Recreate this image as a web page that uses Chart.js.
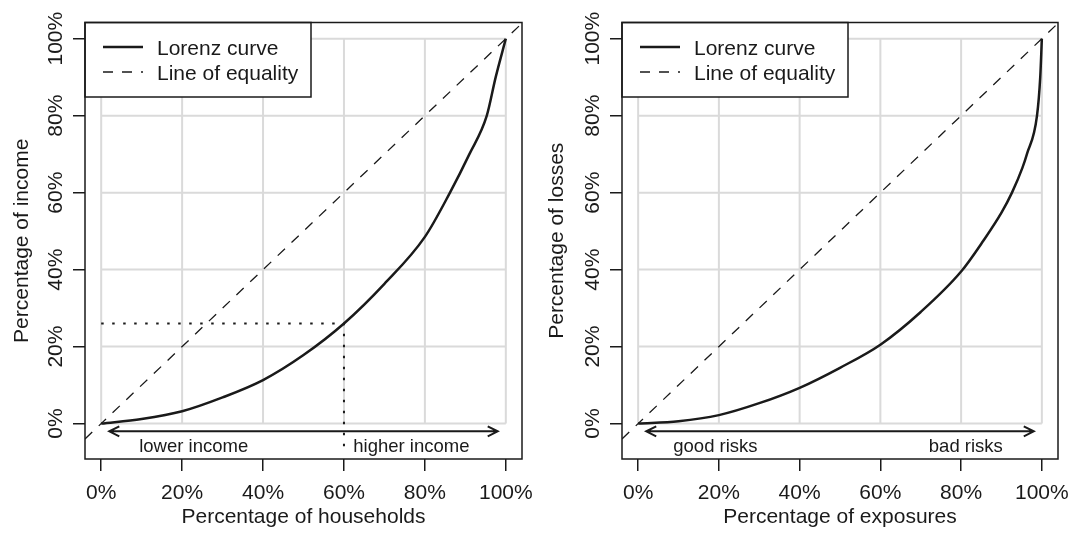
<!DOCTYPE html>
<html>
<head>
<meta charset="utf-8">
<title>Lorenz curves</title>
<script src="https://cdn.jsdelivr.net/npm/chart.js@4.4.1/dist/chart.umd.min.js"></script>
<style>
  html, body { margin: 0; padding: 0; background: #fff; }
  #wrap { position: relative; width: 1069px; height: 533px; }
  #leftPane { position: absolute; left: 0; top: 0; }
  #rightPane { position: absolute; left: 535px; top: 0; }
</style>
</head>
<body>
<div id="wrap">
  <div id="leftPane"><canvas id="incomeChart" width="535" height="533"></canvas></div>
  <div id="rightPane"><canvas id="lossChart" width="534" height="533"></canvas></div>
</div>
<script>
// income: cumulative share of households vs cumulative share of income
var householdPct = [0, 10, 20, 30, 40, 50, 60, 70, 80, 86.2, 91, 95.3, 97.5, 100];
var incomePct    = [0, 1.2, 3.2, 6.8, 11.3, 17.8, 26, 36.3, 48.5, 60, 70, 80, 90, 100];

// insurance: cumulative share of exposures vs cumulative share of losses
var exposurePct = [0, 10, 20, 30, 40, 50, 60, 70, 80, 85.5, 90, 92.6, 95.2, 96.3, 98.8, 99.6, 100];
var lossPct     = [0, 0.6, 2.2, 5.3, 9.3, 14.5, 20.5, 29, 39.5, 47.5, 54.8, 60, 66.5, 70, 80, 90, 100];

var pctTicks = [0, 20, 40, 60, 80, 100];
var equality = [-4, 104];

// dotted guide at 60% of households
var splitX = 60;
var splitY = incomePct[householdPct.indexOf(splitX)];

// double arrow under the curve and its two side labels
var arrowSpan = [2, 98];
var arrowLevel = -2;
var sideLevel = -7.5;
var incomeSides = ['lower income', 'higher income'];
var incomeSideX = [9.4, 62.3];
var riskSides = ['good risks', 'bad risks'];
var riskSideX = [8.7, 72];

var ink = '#1a1a1a';
var family = '"Liberation Sans", Arial, Helvetica, sans-serif';
var fontPx = 21;
var sidePx = 18.5;

function pts(xs, ys) {
    return xs.map(function (x, i) { return {x: x, y: ys[i]}; });
}

var rPlot = {
    id: 'rPlot',
    beforeDatasetsDraw: function (chart) {
        // light grid, only over the unit square
        var x = chart.scales.x, y = chart.scales.y, c = chart.ctx;
        c.save();
        c.strokeStyle = '#dadada';
        c.lineWidth = 2;
        pctTicks.forEach(function (t) {
            c.beginPath();
            c.moveTo(x.getPixelForValue(t), y.getPixelForValue(0));
            c.lineTo(x.getPixelForValue(t), y.getPixelForValue(100));
            c.moveTo(x.getPixelForValue(0), y.getPixelForValue(t));
            c.lineTo(x.getPixelForValue(100), y.getPixelForValue(t));
            c.stroke();
        });
        c.restore();
    },
    afterDatasetsDraw: function (chart, args, opts) {
        var x = chart.scales.x, y = chart.scales.y, c = chart.ctx, a = chart.chartArea;
        c.save();
        // arrow
        var x0 = x.getPixelForValue(arrowSpan[0]), x1 = x.getPixelForValue(arrowSpan[1]);
        var ay = y.getPixelForValue(arrowLevel);
        c.strokeStyle = ink;
        c.lineWidth = 2;
        c.beginPath();
        c.moveTo(x0, ay); c.lineTo(x1, ay);
        c.moveTo(x0 + 10, ay - 5); c.lineTo(x0, ay); c.lineTo(x0 + 10, ay + 5);
        c.moveTo(x1 - 10, ay - 5); c.lineTo(x1, ay); c.lineTo(x1 - 10, ay + 5);
        c.stroke();
        // side labels
        c.fillStyle = ink;
        c.font = sidePx + 'px ' + family;
        c.textAlign = 'left';
        c.textBaseline = 'alphabetic';
        opts.sides.forEach(function (s, i) {
            c.fillText(s, x.getPixelForValue(opts.sideX[i]), y.getPixelForValue(sideLevel));
        });
        // legend in the top left corner
        var lw = 226, lh = 74.5;
        c.font = fontPx + 'px ' + family;
        c.fillStyle = '#fff';
        c.fillRect(a.left, a.top, lw, lh);
        c.strokeStyle = ink;
        c.lineWidth = 1.5;
        c.strokeRect(a.left, a.top, lw, lh);
        chart.data.datasets.slice(0, 2).forEach(function (ds, i) {
            var ly = a.top + 24.5 + i * 25;
            c.save();
            c.strokeStyle = ds.borderColor;
            c.lineWidth = ds.borderWidth;
            c.setLineDash(ds.borderDash || []);
            c.beginPath();
            c.moveTo(a.left + 18, ly); c.lineTo(a.left + 58, ly);
            c.stroke();
            c.restore();
            c.fillStyle = ink;
            c.fillText(ds.label, a.left + 72, ly + 7.5);
        });
        c.restore();
    },
    afterDraw: function (chart) {
        var y = chart.scales.y, c = chart.ctx, a = chart.chartArea;
        c.save();
        c.strokeStyle = ink;
        c.lineWidth = 1.5;
        c.strokeRect(a.left, a.top, a.right - a.left, a.bottom - a.top);
        // y tick labels run along the axis
        c.fillStyle = ink;
        c.font = fontPx + 'px ' + family;
        c.textAlign = 'center';
        c.textBaseline = 'alphabetic';
        pctTicks.forEach(function (t) {
            c.save();
            c.translate(a.left - 23, y.getPixelForValue(t));
            c.rotate(-Math.PI / 2);
            c.fillText(t + '%', 0, 0);
            c.restore();
        });
        c.restore();
    }
};

function makeChart(id, xs, ys, xTitle, yTitle, sides, sideX, yWidth, rightPad, guides) {
    var datasets = [
        {label: 'Lorenz curve', data: pts(xs, ys), borderColor: ink, borderWidth: 2.5,
         cubicInterpolationMode: 'monotone', pointRadius: 0},
        {label: 'Line of equality', data: pts(equality, equality), borderColor: ink, borderWidth: 1.3,
         borderDash: [10, 9], pointRadius: 0}
    ];
    if (guides) {
        datasets.push({label: 'guide', data: [{x: 0, y: splitY}, {x: splitX, y: splitY}, {x: splitX, y: -8}],
            borderColor: ink, borderWidth: 2, borderDash: [2.5, 8.5], pointRadius: 0});
    }
    var tickFont = {size: fontPx, family: family};
    return new Chart(document.getElementById(id).getContext('2d'), {
        type: 'line',
        data: {datasets: datasets},
        plugins: [rPlot],
        options: {
            responsive: false,
            animation: false,
            layout: {padding: {top: 22.5, right: rightPad, left: 0, bottom: 0}},
            plugins: {
                legend: {display: false},
                tooltip: {enabled: false},
                rPlot: {sides: sides, sideX: sideX}
            },
            scales: {
                x: {
                    type: 'linear', min: -4, max: 104,
                    afterBuildTicks: function (s) { s.ticks = pctTicks.map(function (v) { return {value: v}; }); },
                    afterFit: function (s) { s.height = 74; s.paddingLeft = 0; s.paddingRight = 0; },
                    border: {display: false},
                    grid: {drawOnChartArea: false, color: ink, lineWidth: 1.5, tickLength: 12},
                    ticks: {color: ink, font: tickFont, padding: 10, maxRotation: 0, autoSkip: false,
                            callback: function (v) { return v + '%'; }},
                    title: {display: true, text: xTitle, color: ink, font: tickFont, padding: {top: 0, bottom: 3}}
                },
                y: {
                    type: 'linear', min: -9.2, max: 104.2,
                    afterBuildTicks: function (s) { s.ticks = pctTicks.map(function (v) { return {value: v}; }); },
                    afterFit: function (s) { s.width = yWidth; s.paddingTop = 0; s.paddingBottom = 0; },
                    border: {display: false},
                    grid: {drawOnChartArea: false, color: ink, lineWidth: 1.5, tickLength: 12},
                    ticks: {display: false},
                    title: {display: true, text: yTitle, color: ink, font: tickFont, padding: {top: 10, bottom: 0}}
                }
            }
        }
    });
}

makeChart('incomeChart', householdPct, incomePct, 'Percentage of households', 'Percentage of income',
          incomeSides, incomeSideX, 85, 13, true);
makeChart('lossChart', exposurePct, lossPct, 'Percentage of exposures', 'Percentage of losses',
          riskSides, riskSideX, 87, 11, false);
</script>
</body>
</html>
